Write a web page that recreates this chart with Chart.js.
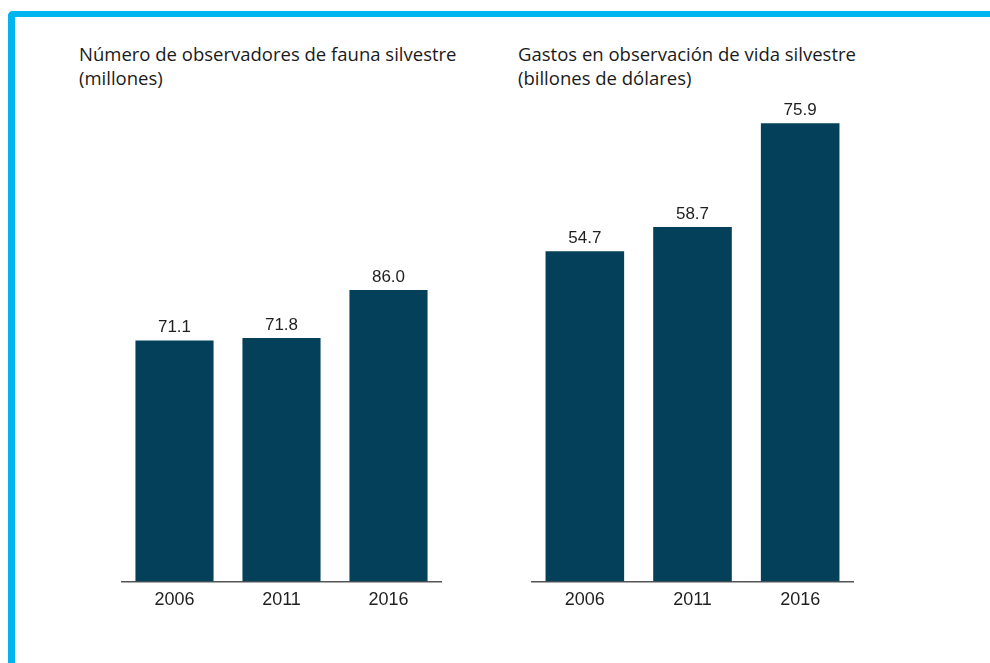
<!DOCTYPE html>
<html>
<head>
<meta charset="utf-8">
<script src="https://cdn.jsdelivr.net/npm/chart.js@4"></script>
<style>
    body { margin: 0; background: #fff; width: 990px; height: 663px; overflow: hidden; position: relative; }
    .frame {
        position: absolute; left: 8px; top: 11px; width: 1000px; height: 700px;
        border-top: 6px solid #00b4f0; border-left: 7px solid #00b4f0;
        border-top-left-radius: 5px;
    }
    .title {
        position: absolute; font-family: "Open Sans", sans-serif; font-size: 18.5px;
        line-height: 24px; color: #1a1a1a; white-space: nowrap;
    }
    .box { position: absolute; }
</style>
</head>
<body>
<div class="frame"></div>

<div class="title" style="left:79px; top:42px;">Número de observadores de fauna silvestre<br>(millones)</div>
<div class="title" style="left:518px; top:42px;">Gastos en observación de vida silvestre<br>(billones de dólares)</div>

<div class="box" style="left:121px; top:90px; width:321px; height:521px;"><canvas id="obsChart"></canvas></div>
<div class="box" style="left:531px; top:90px; width:323px; height:521px;"><canvas id="gastosChart"></canvas></div>

<script>
// DATA
const years = ['2006', '2011', '2016'];
const observadores = [71.1, 71.8, 86.0];
const gastos = [54.7, 58.7, 75.9];

const barColor = '#04405a';

// value labels above bars
const valueLabels = {
    id: 'valueLabels',
    afterDatasetsDraw(chart) {
        const ctx = chart.ctx;
        const meta = chart.getDatasetMeta(0);
        const data = chart.data.datasets[0].data;
        ctx.save();
        ctx.font = '17px "Liberation Sans", Arial, sans-serif';
        ctx.fillStyle = '#1f1f1f';
        ctx.textAlign = 'center';
        ctx.textBaseline = 'alphabetic';
        meta.data.forEach((bar, i) => {
            ctx.fillText(data[i].toFixed(1), bar.x, bar.y - 8);
        });
        ctx.restore();
    }
};

function makeChart(id, values, max) {
    return new Chart(document.getElementById(id), {
        type: 'bar',
        data: {
            labels: years,
            datasets: [{
                data: values,
                backgroundColor: barColor,
                barPercentage: 0.73,
                categoryPercentage: 1
            }]
        },
        options: {
            responsive: true,
            maintainAspectRatio: false,
            animation: false,
            layout: { padding: 0 },
            plugins: {
                legend: { display: false },
                tooltip: { enabled: false }
            },
            scales: {
                y: { display: false, min: 0, max: max },
                x: {
                    grid: { display: false },
                    border: { display: true, color: '#555', width: 1.5 },
                    ticks: {
                        padding: 0,
                        color: '#1f1f1f',
                        font: { family: '"Liberation Sans", Arial, sans-serif', size: 18 }
                    }
                }
            }
        },
        plugins: [valueLabels]
    });
}

// OBSERVADORES (px per unit ~3.385)
makeChart('obsChart', observadores, 145);

// GASTOS (px per unit ~6.03)
makeChart('gastosChart', gastos, 81.4);
</script>
</body>
</html>
